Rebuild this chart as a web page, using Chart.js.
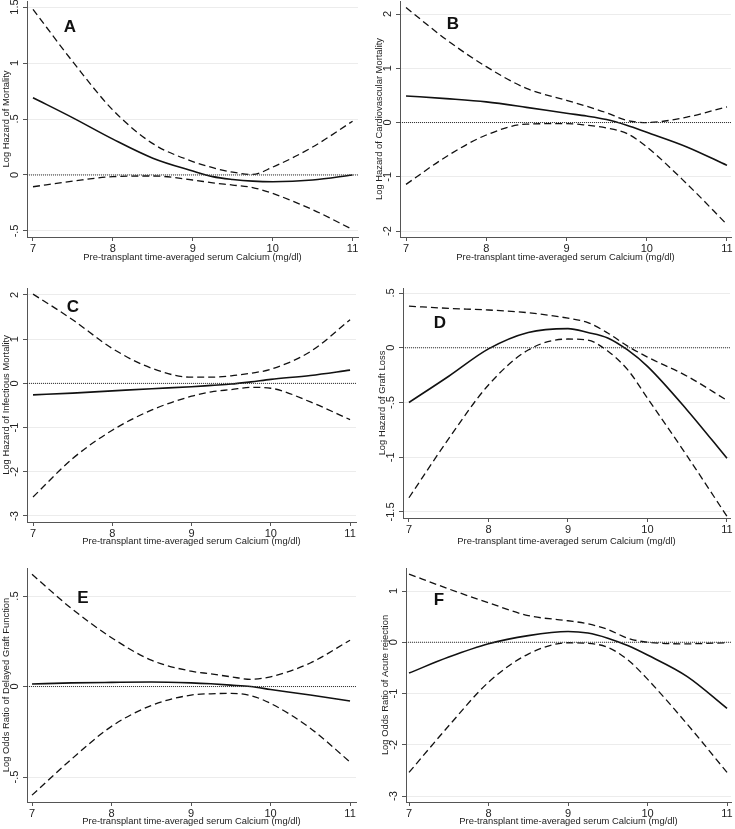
<!DOCTYPE html>
<html>
<head>
<meta charset="utf-8">
<script src="https://cdn.jsdelivr.net/npm/chart.js@4.4.1/dist/chart.umd.min.js"></script>
<style>
  html, body { margin: 0; padding: 0; background: #fff; }
  body { position: relative; width: 735px; height: 829px; overflow: hidden; }
  canvas { position: absolute; }
</style>
</head>
<body>
<canvas id="pA" width="365" height="265" style="left:0px;top:0px"></canvas>
<canvas id="pB" width="362" height="265" style="left:373px;top:0px"></canvas>
<canvas id="pC" width="365" height="263" style="left:0px;top:286px"></canvas>
<canvas id="pD" width="359" height="263" style="left:376px;top:286px"></canvas>
<canvas id="pE" width="365" height="263" style="left:0px;top:566px"></canvas>
<canvas id="pF" width="356" height="263" style="left:379px;top:566px"></canvas>
<script>
// calcium grid shared by every curve
const calcium = [7, 7.5, 8, 8.5, 9, 9.25, 9.5, 9.75, 10, 10.5, 11];
const xTicks = [7, 8, 9, 10, 11];
const xTitle = "Pre-transplant time-averaged serum Calcium (mg/dl)";

// A - mortality
const estA   = [0.69, 0.51, 0.32, 0.15, 0.035, -0.015, -0.04, -0.055, -0.06, -0.045, 0.0];
const upperA = [1.48, 1.01, 0.58, 0.28, 0.12, 0.065, 0.025, 0.005, 0.07, 0.25, 0.48];
const lowerA = [-0.105, -0.055, -0.015, -0.009, -0.045, -0.07, -0.09, -0.112, -0.165, -0.31, -0.487];
const yTicksA = [-0.5, 0, 0.5, 1, 1.5];
const yLabelsA = ["-.5", "0", ".5", "1", "1.5"];

// B - cardiovascular mortality
const estB   = [0.49, 0.44, 0.38, 0.28, 0.17, 0.12, 0.055, -0.05, -0.18, -0.45, -0.79];
const upperB = [2.12, 1.53, 1.03, 0.63, 0.41, 0.3, 0.18, 0.04, 0.0, 0.1, 0.29];
const lowerB = [-1.14, -0.63, -0.23, -0.03, -0.02, -0.05, -0.1, -0.2, -0.45, -1.13, -1.88];
const yTicksB = [-2, -1, 0, 1, 2];
const yLabelsB = ["-2", "-1", "0", "1", "2"];

// C - infectious mortality
const estC   = [-0.26, -0.22, -0.17, -0.12, -0.075, -0.045, -0.015, 0.035, 0.09, 0.18, 0.30];
const upperC = [2.02, 1.44, 0.79, 0.34, 0.14, 0.14, 0.17, 0.23, 0.32, 0.72, 1.44];
const lowerC = [-2.57, -1.7, -1.06, -0.6, -0.29, -0.19, -0.14, -0.09, -0.11, -0.42, -0.82];
const yTicksC = [-3, -2, -1, 0, 1, 2];
const yLabelsC = ["-3", "-2", "-1", "0", "1", "2"];

// D - graft loss
const estD   = [-0.50, -0.26, -0.01, 0.14, 0.175, 0.14, 0.09, -0.02, -0.17, -0.57, -1.01];
const upperD = [0.38, 0.36, 0.345, 0.32, 0.27, 0.23, 0.135, 0.015, -0.085, -0.26, -0.48];
const lowerD = [-1.37, -0.83, -0.34, -0.02, 0.08, 0.07, -0.03, -0.2, -0.46, -0.99, -1.54];
const yTicksD = [-1.5, -1, -0.5, 0, 0.5];
const yLabelsD = ["-1.5", "-1", "-.5", "0", ".5"];

// E - delayed graft function
const estE   = [0.014, 0.02, 0.023, 0.025, 0.02, 0.015, 0.008, 0.0, -0.016, -0.047, -0.08];
const upperE = [0.62, 0.43, 0.27, 0.146, 0.085, 0.07, 0.054, 0.04, 0.054, 0.13, 0.256];
const lowerE = [-0.6, -0.4, -0.22, -0.105, -0.047, -0.04, -0.038, -0.05, -0.093, -0.23, -0.417];
const yTicksE = [-0.5, 0, 0.5];
const yLabelsE = ["-.5", "0", ".5"];

// F - acute rejection
const estF   = [-0.6, -0.29, -0.03, 0.13, 0.21, 0.18, 0.08, -0.065, -0.25, -0.67, -1.29];
const upperF = [1.33, 1.04, 0.77, 0.52, 0.42, 0.36, 0.25, 0.08, 0.0, -0.03, -0.01];
const lowerF = [-2.54, -1.63, -0.78, -0.23, -0.01, -0.02, -0.1, -0.34, -0.72, -1.6, -2.54];
const yTicksF = [-3, -2, -1, 0, 1];
const yLabelsF = ["-3", "-2", "-1", "0", "1"];

Chart.defaults.font.family = '"Liberation Sans", Arial, sans-serif';
Chart.defaults.font.size = 11;
Chart.defaults.color = "#222";

// axis titles are smaller than the tick labels
const titleFont = { size: 9.4 };

const meas = document.createElement("canvas").getContext("2d");
meas.font = '11px "Liberation Sans", Arial, sans-serif';

// rotated y labels are centred 12px left of the axis line
function labelPad(labels) {
  const widest = Math.max(...labels.map((l) => meas.measureText(l).width));
  return 8.5 - widest / 2;
}

const panelLetter = {
  id: "panelLetter",
  afterDraw(chart, args, opts) {
    const { ctx, chartArea } = chart;
    ctx.save();
    ctx.font = 'bold 17px "Liberation Sans", Arial, sans-serif';
    ctx.fillStyle = "#111";
    ctx.textAlign = "center";
    ctx.textBaseline = "middle";
    ctx.fillText(opts.text, chartArea.left + opts.dx, chartArea.top + opts.dy);
    ctx.restore();
  },
};

function makePanel(id, p) {
  const ctx = document.getElementById(id).getContext("2d");
  const pts = (ys) => calcium.map((x, i) => ({ x: x, y: ys[i] }));
  const curve = { borderColor: "#111", pointRadius: 0, fill: false, cubicInterpolationMode: "monotone" };

  return new Chart(ctx, {
    type: "line",
    data: {
      datasets: [
        { data: [{ x: p.xMin, y: 0 }, { x: p.xMax, y: 0 }], borderColor: "#333", borderWidth: 1, borderDash: [1, 1], pointRadius: 0 },
        { ...curve, data: pts(p.upper), borderWidth: 1.3, borderDash: [7, 4] },
        { ...curve, data: pts(p.lower), borderWidth: 1.3, borderDash: [7, 4] },
        { ...curve, data: pts(p.est), borderWidth: 1.6 },
      ],
    },
    options: {
      responsive: false,
      animation: false,
      events: [],
      layout: { padding: { top: p.padTop, right: p.padRight, left: 0, bottom: 0 } },
      plugins: {
        legend: { display: false },
        tooltip: { enabled: false },
        panelLetter: { text: p.letter, dx: p.dx, dy: p.dy },
      },
      scales: {
        x: {
          type: "linear",
          min: p.xMin,
          max: p.xMax,
          afterBuildTicks: (s) => { s.ticks = xTicks.map((v) => ({ value: v })); },
          afterFit: (s) => { s.height = p.xHeight; s.paddingLeft = 0; s.paddingRight = 0; },
          ticks: { autoSkip: false, maxRotation: 0, padding: 1, callback: (v) => String(v) },
          grid: { drawOnChartArea: false, tickLength: 4, tickColor: "#555" },
          border: { color: "#555", width: 1 },
          title: { display: true, text: xTitle, font: titleFont, padding: { top: 0, bottom: 1.5 } },
        },
        y: {
          type: "linear",
          min: p.yMin,
          max: p.yMax,
          afterBuildTicks: (s) => { s.ticks = p.yTicks.map((v) => ({ value: v })); },
          afterFit: (s) => { s.width = 27; s.paddingTop = 0; s.paddingBottom = 0; },
          ticks: {
            autoSkip: false,
            minRotation: 90,
            maxRotation: 90,
            crossAlign: "center",
            padding: labelPad(p.yLabels),
            callback: (v) => p.yLabels[p.yTicks.indexOf(v)],
          },
          grid: { color: "#ececec", tickLength: 4, tickColor: "#555" },
          border: { color: "#555", width: 1 },
          title: { display: true, text: p.yTitle, font: titleFont, padding: { top: 1, bottom: 0 } },
        },
      },
    },
    plugins: [panelLetter],
  });
}

makePanel("pA", {
  letter: "A", dx: 43, dy: 26, est: estA, upper: upperA, lower: lowerA,
  yTicks: yTicksA, yLabels: yLabelsA, yTitle: "Log Hazard of Mortality",
  xMin: 6.925, xMax: 11.068, yMin: -0.554, yMax: 1.554, padTop: 1, padRight: 7, xHeight: 28,
});
makePanel("pB", {
  letter: "B", dx: 53, dy: 23, est: estB, upper: upperB, lower: lowerB,
  yTicks: yTicksB, yLabels: yLabelsB, yTitle: "Log Hazard of Cardiovascular Mortality",
  xMin: 6.925, xMax: 11.05, yMin: -2.11, yMax: 2.24, padTop: 1, padRight: 4, xHeight: 28,
});
makePanel("pC", {
  letter: "C", dx: 46, dy: 19, est: estC, upper: upperC, lower: lowerC,
  yTicks: yTicksC, yLabels: yLabelsC, yTitle: "Log Hazard of Infectious Mortality",
  xMin: 6.924, xMax: 11.075, yMin: -3.136, yMax: 2.158, padTop: 2, padRight: 9, xHeight: 27,
});
makePanel("pD", {
  letter: "D", dx: 37, dy: 35, est: estD, upper: upperD, lower: lowerD,
  yTicks: yTicksD, yLabels: yLabelsD, yTitle: "Log Hazard of Graft Loss",
  xMin: 6.925, xMax: 11.038, yMin: -1.555, yMax: 0.546, padTop: 2, padRight: 5, xHeight: 31,
});
makePanel("pE", {
  letter: "E", dx: 56, dy: 30, est: estE, upper: upperE, lower: lowerE,
  yTicks: yTicksE, yLabels: yLabelsE, yTitle: "Log Odds Ratio of Delayed Graft Function",
  xMin: 6.937, xMax: 11.075, yMin: -0.638, yMax: 0.655, padTop: 2, padRight: 9, xHeight: 27,
});
makePanel("pF", {
  letter: "F", dx: 33, dy: 32, est: estF, upper: upperF, lower: lowerF,
  yTicks: yTicksF, yLabels: yLabelsF, yTitle: "Log Odds Ratio of Acute rejection",
  xMin: 6.962, xMax: 11.05, yMin: -3.117, yMax: 1.449, padTop: 2, padRight: 4, xHeight: 27,
});
</script>
</body>
</html>
